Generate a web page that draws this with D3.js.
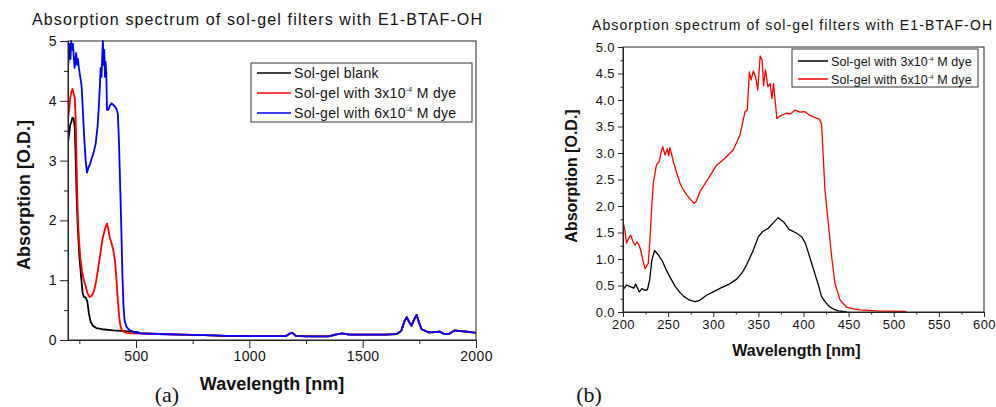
<!DOCTYPE html>
<html>
<head>
<meta charset="utf-8">
<script src="https://cdn.jsdelivr.net/npm/d3@7"></script>
<style>
  body { margin: 0; background: #fff; }
  svg text { font-family: "Liberation Sans", Arial, sans-serif; fill: #111; }
</style>
</head>
<body>
<svg width="996" height="407"></svg>
<script>
// ---- data: [wavelength nm, absorption O.D.] ----
let tail = [[520, 0.11], [600, 0.1], [700, 0.09], [800, 0.08], [900, 0.07], [1000, 0.066], [1100, 0.065],
  [1160, 0.065], [1180, 0.11], [1190, 0.12], [1205, 0.07], [1250, 0.06], [1350, 0.06], [1380, 0.09],
  [1410, 0.11], [1440, 0.09], [1500, 0.09], [1600, 0.09], [1650, 0.1], [1670, 0.15], [1685, 0.32],
  [1695, 0.38], [1705, 0.3], [1715, 0.24], [1728, 0.35], [1738, 0.42], [1748, 0.3], [1760, 0.18],
  [1790, 0.13], [1810, 0.13], [1840, 0.14], [1860, 0.1], [1880, 0.1], [1905, 0.16], [1930, 0.15],
  [1960, 0.14], [2000, 0.12]];

let blankA = [[200, 3.3], [205, 3.45], [210, 3.6], [215, 3.65], [220, 3.72], [225, 3.7], [230, 3.55],
  [234, 3.0], [238, 2.4], [243, 1.9], [250, 1.4], [258, 1.05], [265, 0.78], [270, 0.72], [278, 0.71],
  [285, 0.65], [292, 0.45], [300, 0.3], [310, 0.24], [325, 0.2], [350, 0.18], [400, 0.16], [450, 0.15],
  [510, 0.13]].concat(tail);

let dye3A = [[200, 3.7], [205, 3.85], [210, 4.05], [215, 4.15], [220, 4.2], [225, 4.12], [230, 4.05],
  [234, 3.7], [238, 2.9], [243, 2.1], [248, 1.7], [255, 1.35], [262, 1.15], [270, 1.0], [278, 0.9],
  [286, 0.78], [295, 0.72], [305, 0.74], [315, 0.82], [325, 1.0], [335, 1.25], [345, 1.5], [352, 1.68],
  [358, 1.78], [365, 1.88], [372, 1.95], [378, 1.85], [384, 1.72], [392, 1.62], [400, 1.5], [408, 1.3],
  [414, 1.0], [420, 0.65], [426, 0.38], [432, 0.22], [440, 0.15], [455, 0.12], [480, 0.11]].concat(tail);

let dye6A = [[200, 4.55], [204, 4.75], [208, 4.95], [211, 4.7], [214, 5.0], [218, 4.85], [222, 4.95],
  [226, 4.7], [229, 4.55], [232, 4.65], [236, 4.8], [240, 4.6], [244, 4.7], [248, 4.55], [254, 4.4],
  [260, 4.25], [266, 3.8], [272, 3.35], [278, 3.0], [284, 2.8], [290, 2.88], [298, 2.95], [306, 3.05],
  [314, 3.15], [322, 3.28], [330, 3.55], [336, 3.9], [340, 4.2], [344, 4.55], [348, 4.4], [351, 4.75],
  [354, 5.0], [357, 4.6], [360, 4.85], [363, 4.4], [366, 4.65], [369, 4.45], [372, 3.85], [378, 3.85],
  [385, 3.92], [392, 3.96], [400, 3.93], [408, 3.9], [415, 3.85], [420, 3.78], [425, 3.3], [430, 2.6],
  [435, 1.9], [440, 1.1], [445, 0.55], [450, 0.32], [458, 0.22], [470, 0.17], [490, 0.13]].concat(tail);

let dye3B = [[200, 0.42], [204, 0.51], [208, 0.48], [212, 0.45], [214, 0.53], [218, 0.38], [221, 0.44],
  [224, 0.41], [227, 0.42], [229.5, 0.6], [232, 0.98], [235, 1.16], [239, 1.08], [244, 0.95], [248, 0.79],
  [253, 0.63], [258, 0.48], [263, 0.37], [267, 0.3], [273, 0.23], [280, 0.195], [285, 0.22], [293, 0.32],
  [300, 0.38], [308, 0.45], [317, 0.52], [326, 0.62], [332, 0.74], [337, 0.89], [344, 1.15], [350, 1.42],
  [355, 1.52], [361, 1.58], [367, 1.69], [372, 1.78], [378, 1.7], [384, 1.56], [391, 1.5], [398, 1.42],
  [402, 1.3], [405, 1.14], [409, 0.92], [413, 0.7], [417, 0.48], [420, 0.29], [425, 0.17], [429, 0.1],
  [434, 0.05], [439, 0.02], [448, 0.0]];

let dye6B = [[200, 1.7], [202, 1.55], [204, 1.3], [206, 1.38], [208.5, 1.45], [211, 1.33], [213.5, 1.26],
  [215.5, 1.32], [217.6, 1.27], [219.6, 1.17], [222, 0.98], [224.4, 0.82], [226, 0.86], [228, 0.92],
  [230, 1.4], [231.8, 1.99], [233.6, 2.43], [236.6, 2.74], [238, 2.8], [240.2, 2.84], [242, 3.0],
  [244, 3.12], [246.6, 2.96], [249.2, 3.08], [250.5, 2.95], [252, 3.1], [255.8, 2.84], [259, 2.65],
  [263.2, 2.43], [266, 2.33], [270.6, 2.21], [275, 2.12], [278.7, 2.05], [281, 2.08], [285.3, 2.27],
  [294.6, 2.52], [303.8, 2.77], [313, 2.9], [322.3, 3.06], [329.6, 3.34], [335.2, 3.78], [337.7, 3.81],
  [340, 4.53], [342, 4.38], [344.4, 4.55], [347, 4.43], [349.3, 4.19], [352, 4.83], [354.2, 4.75],
  [355.7, 4.27], [357.9, 4.57], [360.5, 4.25], [363, 4.31], [365, 4.03], [366.8, 4.31], [370.5, 3.65],
  [374, 3.7], [381.3, 3.75], [386, 3.74], [390.6, 3.81], [396, 3.77], [401.7, 3.78], [406, 3.72],
  [410.9, 3.68], [417.5, 3.64], [420, 3.55], [423.8, 2.3], [427.5, 1.67], [431.2, 1.04], [434.9, 0.54],
  [440.4, 0.23], [447.8, 0.09], [455, 0.06], [462.6, 0.04], [481, 0.02], [514, 0.01]];

let leftLabels = ["Sol-gel blank", "Sol-gel with 3x10|-4| M dye", "Sol-gel with 6x10|-4| M dye"];
let rightLabels = ["Sol-gel with 3x10|-4| M dye", "Sol-gel with 6x10|-4| M dye"];
let leftXTicks = [500, 1000, 1500, 2000];
let leftXMinor = [250, 750, 1250, 1750];
let leftYTicks = [0, 1, 2, 3, 4, 5];
let leftYMinor = [0.5, 1.5, 2.5, 3.5, 4.5];
let rightXTicks = [200, 250, 300, 350, 400, 450, 500, 550, 600];
let rightXMinor = [225, 275, 325, 375, 425, 475, 525, 575];
let rightYTicks = [0, 0.5, 1, 1.5, 2, 2.5, 3, 3.5, 4, 4.5, 5];
let rightYMinor = [0.25, 0.75, 1.25, 1.75, 2.25, 2.75, 3.25, 3.75, 4.25, 4.75];
let titleText = "Absorption spectrum of sol-gel filters with E1-BTAF-OH";

var svg = d3.select("svg");

function drawPanel(p) {
  let g = svg.append("g");
  let x = d3.scaleLinear().domain(p.xDomain).range([p.left, p.right]);
  let y = d3.scaleLinear().domain([0, 5]).range([p.bottom, p.top]);

  let clipId = "clip" + p.id;
  g.append("clipPath").attr("id", clipId).append("rect")
    .attr("x", p.left).attr("y", p.top - 1)
    .attr("width", p.right - p.left).attr("height", p.bottom - p.top + 1);

  let line = d3.line().x(d => x(d[0])).y(d => y(d[1]));
  p.series.forEach(function (s, i) {
    g.append("path").datum(s)
      .attr("clip-path", "url(#" + clipId + ")")
      .attr("d", line)
      .attr("fill", "none")
      .attr("stroke", p.colors[i])
      .attr("stroke-width", p.lw)
      .attr("stroke-linejoin", "round");
  });

  // frame
  g.append("rect").attr("x", p.left).attr("y", p.top)
    .attr("width", p.right - p.left).attr("height", p.bottom - p.top)
    .attr("fill", "none").attr("stroke", "#222").attr("stroke-width", 1);

  g.append("g").attr("transform", "translate(0," + p.bottom + ")")
    .call(d3.axisBottom(x).tickValues(p.xTicks).tickSize(p.tick).tickSizeOuter(0).tickFormat(d3.format("d")));
  g.append("g").attr("transform", "translate(0," + p.bottom + ")")
    .call(d3.axisBottom(x).tickValues(p.xMinor).tickSize(p.tick / 2).tickSizeOuter(0).tickFormat(""));
  g.append("g").attr("transform", "translate(" + p.left + ",0)")
    .call(d3.axisLeft(y).tickValues(p.yTicks).tickSize(p.tick).tickSizeOuter(0).tickFormat(d3.format(p.yFmt)));
  g.append("g").attr("transform", "translate(" + p.left + ",0)")
    .call(d3.axisLeft(y).tickValues(p.yMinor).tickSize(p.tick / 2).tickSizeOuter(0).tickFormat(""));

  g.selectAll(".domain").attr("stroke", "#222");
  g.selectAll(".tick line").attr("stroke", "#222");
  g.selectAll(".tick text").style("font-size", p.tickFont + "px")
    .style("letter-spacing", "0.4px")
    .style("font-family", "'Liberation Sans', Arial, sans-serif").attr("fill", "#111");

  g.append("text").attr("x", p.titleX).attr("y", p.titleY)
    .attr("text-anchor", "middle").style("font-size", p.titleFont + "px")
    .attr("textLength", p.titleW).attr("lengthAdjust", "spacing")
    .text(titleText);

  g.append("text").attr("x", (p.left + p.right) / 2 + p.xLabelDx).attr("y", p.xLabelY)
    .attr("text-anchor", "middle").style("font-size", p.axisFont + "px").style("font-weight", "bold")
    .text("Wavelength [nm]");

  g.append("text").attr("transform", "translate(" + p.yLabelX + "," + p.yLabelY + ") rotate(-90)")
    .attr("text-anchor", "middle").style("font-size", p.axisFont + "px").style("font-weight", "bold")
    .text("Absorption [O.D.]");

  // legend
  let lg = p.legend;
  g.append("rect").attr("x", lg.x).attr("y", lg.y).attr("width", lg.w).attr("height", lg.h)
    .attr("fill", "#fff").attr("stroke", "#333").attr("stroke-width", 1);
  p.labels.forEach(function (lab, i) {
    let ry = lg.y + lg.pad + i * lg.step;
    g.append("line").attr("x1", lg.x + 6).attr("x2", lg.x + 6 + lg.len)
      .attr("y1", ry).attr("y2", ry).attr("stroke", p.colors[i]).attr("stroke-width", 1.5);
    let parts = lab.split("|");
    let t = g.append("text").attr("x", lg.x + 9 + lg.len).attr("y", ry + lg.font * 0.36)
      .style("font-size", lg.font + "px").style("letter-spacing", lg.ls + "px");
    t.append("tspan").text(parts[0]);
    if (parts.length > 1) {
      t.append("tspan").attr("dy", -lg.font * 0.4).style("font-size", (lg.font * 0.5) + "px").text(parts[1]);
      t.append("tspan").attr("dy", lg.font * 0.4).text(parts[2]);
    }
  });

  svg.append("text").attr("x", p.capX).attr("y", 402).attr("text-anchor", "middle")
    .style("font-family", "'Liberation Serif', 'Times New Roman', serif").style("font-size", "22px")
    .text(p.caption);
}

drawPanel({
  id: "a", left: 68, right: 476, top: 41, bottom: 340, xDomain: [200, 2000],
  series: [blankA, dye3A, dye6A], colors: ["#000", "#ff0000", "#0000ff"], lw: 1.8,
  xTicks: leftXTicks, xMinor: leftXMinor, yTicks: leftYTicks, yMinor: leftYMinor, yFmt: "d",
  tick: 8, tickFont: 14, titleX: 257, titleY: 25, titleFont: 16, titleW: 450,
  axisFont: 18, xLabelDx: 0, xLabelY: 390, yLabelX: 30, yLabelY: 195,
  labels: leftLabels,
  legend: { x: 251, y: 63, w: 221, h: 59, pad: 10, step: 20, len: 34, font: 14, ls: 0.3 },
  capX: 167, caption: "(a)"
});

drawPanel({
  id: "b", left: 623, right: 984, top: 47, bottom: 312, xDomain: [200, 600],
  series: [dye3B, dye6B], colors: ["#000", "#ff0000"], lw: 1.3,
  xTicks: rightXTicks, xMinor: rightXMinor, yTicks: rightYTicks, yMinor: rightYMinor, yFmt: ".1f",
  tick: 5, tickFont: 13, titleX: 792, titleY: 30, titleFont: 14, titleW: 400,
  axisFont: 16, xLabelDx: -7, xLabelY: 356, yLabelX: 577, yLabelY: 176,
  labels: rightLabels,
  legend: { x: 792, y: 49, w: 186, h: 38, pad: 12, step: 18, len: 30, font: 12.5, ls: 0.1 },
  capX: 589, caption: "(b)"
});
</script>
</body>
</html>
